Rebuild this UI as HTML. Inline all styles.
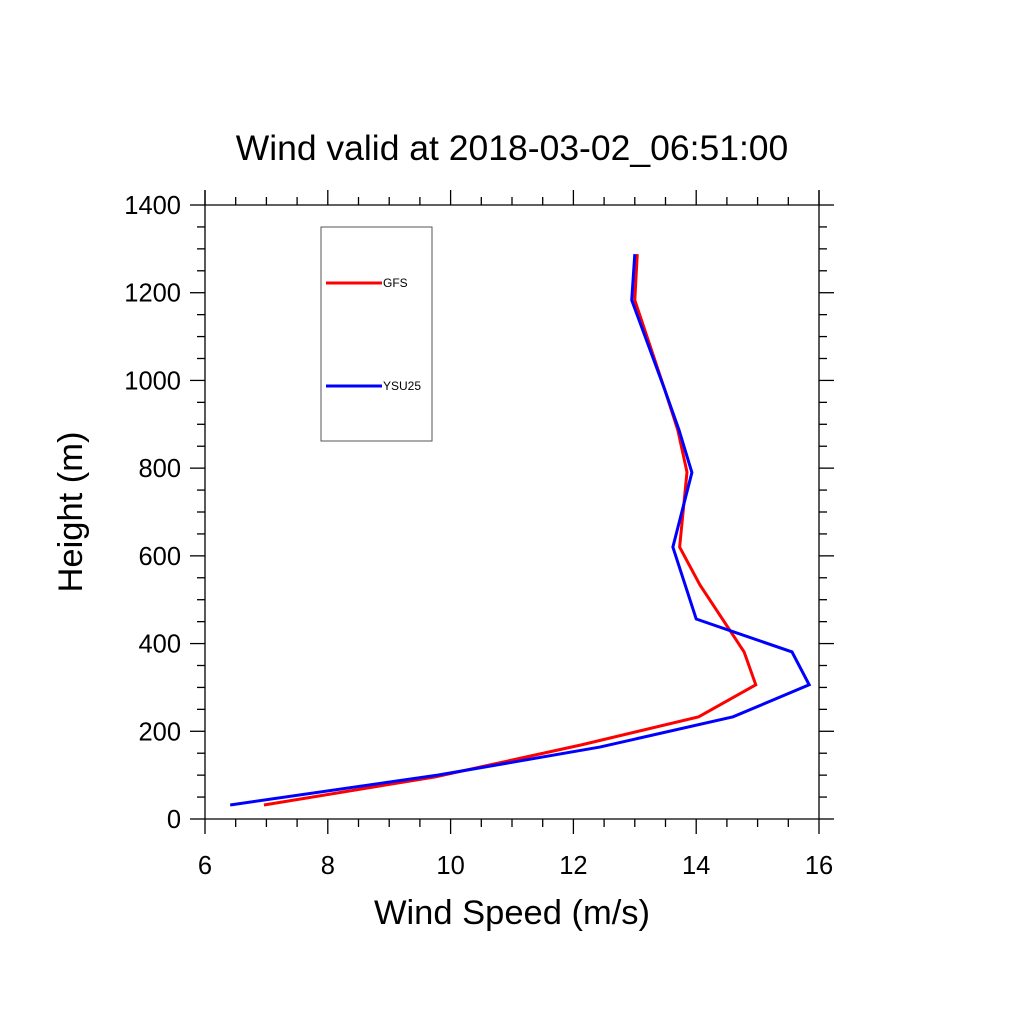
<!DOCTYPE html>
<html><head><meta charset="utf-8"><style>body{margin:0;background:#fff}svg{display:block}</style></head>
<body>
<svg id="chart" width="1024" height="1024" xmlns="http://www.w3.org/2000/svg" font-family="Liberation Sans, sans-serif">
<rect width="1024" height="1024" fill="#fff"/>
<text x="512" y="160" text-anchor="middle" font-size="35.5">Wind valid at 2018-03-02_06:51:00</text>
<text x="512" y="924" text-anchor="middle" font-size="34.5">Wind Speed (m/s)</text>
<text transform="translate(82,512) rotate(-90)" text-anchor="middle" font-size="34.5">Height (m)</text>
<g id="axes"></g>
<g id="series"></g>
<g>
<rect x="321" y="227" width="111" height="214" fill="none" stroke="#555" stroke-width="1"/>
<line x1="326" y1="283" x2="382" y2="283" stroke="#f00" stroke-width="3"/>
<text x="383" y="287" font-size="12">GFS</text>
<line x1="326" y1="386" x2="382" y2="386" stroke="#00f" stroke-width="3"/>
<text x="383" y="390" font-size="12">YSU25</text>
</g>
</svg>
<script>
const xTicks=[6,8,10,12,14,16];
const yTicks=[0,200,400,600,800,1000,1200,1400];
const gfsSpeed=[6.96,9.75,12.13,14.04,14.97,14.78,14.06,13.73,13.85,13.70,13.49,13.00,13.04];
const gfsHeight=[32,96,169,233,306,381,534,620,791,887,978,1183,1288];
const ysuSpeed=[6.41,9.79,12.43,14.60,15.84,15.56,14.0,13.62,13.93,13.72,13.49,12.95,13.0];
const ysuHeight=[32,100,164,233,306,381,456,620,790,887,978,1183,1288];
const L=205,R=819,T=205,B=819;
const xs=v=>L+(v-6)/10*(R-L), ys=v=>B-v/1400*(B-T);
const NS="http://www.w3.org/2000/svg";
const ax=document.getElementById('axes'), sg=document.getElementById('series');
function ln(x1,y1,x2,y2,w){const e=document.createElementNS(NS,'line');e.setAttribute('x1',x1);e.setAttribute('y1',y1);e.setAttribute('x2',x2);e.setAttribute('y2',y2);e.setAttribute('stroke','#000');e.setAttribute('stroke-width',w||1.3);


ax.appendChild(e);}
ln(L,T,R,T);ln(L,B,R,B);ln(L,T-15,L,B);ln(R,T-15,R,B);
for(let v=6;v<=16.001;v+=0.5){const x=xs(v);const m=Math.abs(v-Math.round(v/2)*2)<1e-6;const len=m?15:8;ln(x,B,x,B+len);ln(x,T,x,T-len);}
for(let v=0;v<=1400;v+=50){const y=ys(v);const len=v%200===0?15:8;ln(L-len,y,L,y);ln(R,y,R+len,y);}
xTicks.forEach(v=>{const t=document.createElementNS(NS,'text');t.setAttribute('x',xs(v));t.setAttribute('y',B+55);t.setAttribute('text-anchor','middle');t.setAttribute('font-size','25.5');t.textContent=v;


ax.appendChild(t);});
yTicks.forEach(v=>{const t=document.createElementNS(NS,'text');t.setAttribute('x',L-24);t.setAttribute('y',ys(v)+9);t.setAttribute('text-anchor','end');t.setAttribute('font-size','25.5');t.textContent=v;


ax.appendChild(t);});
function line(xa,ya,c,name){const p=document.createElementNS(NS,'polyline');p.setAttribute('points',xa.map((v,i)=>xs(v)+','+ys(ya[i])).join(' '));p.setAttribute('fill','none');p.setAttribute('stroke',c);p.setAttribute('stroke-width','3');p.setAttribute('stroke-linejoin','miter');


sg.appendChild(p);}
line(gfsSpeed,gfsHeight,'#f00','gfs-line');
line(ysuSpeed,ysuHeight,'#00f','ysu25-line');
</script>
</body></html>
